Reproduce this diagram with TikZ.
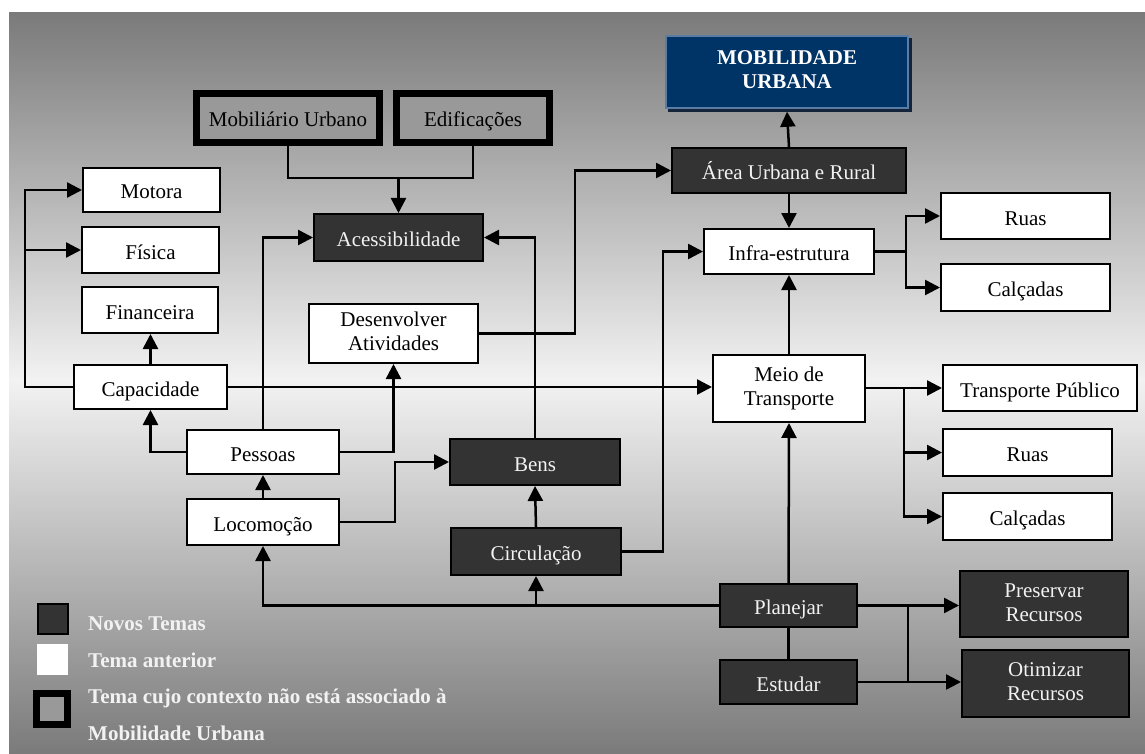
\documentclass[tikz,border=0pt]{standalone}
\usepackage{fontspec}
\setmainfont{Liberation Serif}
\usetikzlibrary{arrows.meta,calc}
\definecolor{darkbox}{HTML}{333333}
\definecolor{navy}{HTML}{003366}
\definecolor{navyedge}{HTML}{5A7DA6}
\definecolor{navyshadow}{HTML}{14243A}
\definecolor{lighttext}{HTML}{F2F2F2}
\definecolor{midgray}{HTML}{999999}
\begin{document}
\begin{tikzpicture}[x=1pt,y=-1pt,
  every node/.style={font=\fontsize{21}{24}\selectfont, inner sep=0pt},
  oneline/.style={text height=18pt, text depth=0pt},
  twoline/.style={text height=39pt, text depth=5pt},
  wbox/.style={draw=black, fill=white, line width=2pt, align=center, oneline},
  dbox/.style={draw=black, fill=darkbox, line width=2pt, text=lighttext, align=center, oneline},
  tbox/.style={draw=black, fill=midgray, line width=7pt, align=center, oneline},
  ln/.style={line width=2.5pt, draw=black},
  arr/.style={ln, -{Triangle[length=15pt,width=15pt]}},
  lgtext/.style={anchor=west, text=lighttext, font=\fontsize{21}{24}\selectfont\bfseries, text height=15pt, text depth=5pt}
]
\useasboundingbox (0,0) rectangle (1145,754);
% background
\shade[top color=black!52, bottom color=black!5] (9,13) rectangle (1145,381);
\shade[top color=black!5, bottom color=black!52] (9,380) rectangle (1145,754);

% nodes
\node[tbox, minimum width=183pt, minimum height=49pt] (mob) at (288,118) {Mobiliário Urbano};
\node[tbox, minimum width=153pt, minimum height=49pt] (edi) at (473,118) {Edificações};

\fill[navyshadow] (668,38) rectangle (912,112);
\node[draw=navyedge, fill=navy, line width=1.5pt, minimum width=242pt, minimum height=72pt, text=white, font=\fontsize{21}{24}\selectfont\bfseries, align=center, twoline] (mu) at (787,72) {MOBILIDADE\\URBANA};

\node[dbox, minimum width=234pt, minimum height=45pt] (aur) at (789,170.5) {Área Urbana e Rural};
\node[wbox, minimum width=170pt, minimum height=45pt] (inf) at (789,251.5) {Infra-estrutura};
\node[wbox, minimum width=169pt, minimum height=46pt] (ruasA) at (1025.5,216) {Ruas};
\node[wbox, minimum width=169pt, minimum height=47pt] (calcA) at (1025.5,287.5) {Calçadas};
\node[wbox, twoline, minimum width=152pt, minimum height=67pt] (meio) at (789,388.5) {Meio de\\Transporte};
\node[wbox, minimum width=194pt, minimum height=46pt] (tp) at (1040,388) {Transporte Público};
\node[wbox, minimum width=169pt, minimum height=47pt] (ruasB) at (1027.5,452.5) {Ruas};
\node[wbox, minimum width=169pt, minimum height=47pt] (calcB) at (1027.5,516.5) {Calçadas};
\node[dbox, minimum width=137pt, minimum height=43pt] (plan) at (788.5,605.5) {Planejar};
\node[dbox, minimum width=137pt, minimum height=44pt] (est) at (788.5,682) {Estudar};
\node[dbox, twoline, minimum width=168pt, minimum height=66pt] (pres) at (1044,604) {Preservar\\Recursos};
\node[dbox, twoline, minimum width=167pt, minimum height=67pt] (otim) at (1045.5,683.5) {Otimizar\\Recursos};

\node[wbox, minimum width=137pt, minimum height=44pt] (motora) at (151.5,190) {Motora};
\node[wbox, minimum width=137pt, minimum height=46pt] (fisica) at (150.5,250) {Física};
\node[wbox, minimum width=136pt, minimum height=46pt] (fin) at (150,310) {Financeira};
\node[wbox, minimum width=153pt, minimum height=44pt] (cap) at (150.5,387) {Capacidade};
\node[wbox, minimum width=152pt, minimum height=44pt] (pes) at (263,452) {Pessoas};
\node[wbox, minimum width=152pt, minimum height=46pt] (loc) at (263,522) {Locomoção};
\node[dbox, minimum width=169pt, minimum height=47pt] (ace) at (398.5,237.5) {Acessibilidade};
\node[wbox, twoline, minimum width=169pt, minimum height=59pt] (des) at (393.5,333.5) {Desenvolver\\Atividades};
\node[dbox, minimum width=170pt, minimum height=46pt] (bens) at (535,462) {Bens};
\node[dbox, minimum width=170pt, minimum height=47pt] (circ) at (536,551.5) {Circulação};

% connectors
\coordinate (j1) at (398.5,178);
\draw[ln] (mob.south) |- (j1);
\draw[ln] (edi.south) |- (j1);
\draw[arr] (j1) -- (ace.north);

\coordinate (cl) at (25,387);
\draw[arr] (cap.west) -- (cl) |- (motora.west);
\draw[arr] (cl) |- (fisica.west);
\draw[arr] (cap.north) -- (cap.north |- fin.south);
\draw[arr] (cap.east) -- (cap.east -| meio.west);

\draw[arr] (pes.west) -| (cap.south);
\draw[arr] (pes.north) |- (ace.west);
\draw[arr] (pes.east) -| (des.south);
\draw[arr] (loc.north) -- (pes.south);
\draw[arr] (loc.east) -- ++(55,0) |- (bens.west);
\draw[arr] (bens.north) |- (ace.east);
\draw[arr] (des.east) -- ++(96,0) |- (aur.west);
\draw[arr] (circ.north) -- (bens.south);
\draw[arr] (circ.east) -- ++(41,0) |- (inf.west);

\draw[arr] (aur.north) -- ([yshift=-3pt]mu.south);
\draw[arr] (aur.south) -- (inf.north);

\coordinate (ij) at (906,251.5);
\draw[ln] (inf.east) -- (ij);
\draw[arr] (ij) |- (ruasA.west);
\draw[arr] (ij) |- (calcA.west);

\draw[arr] (meio.north) -- (inf.south);
\coordinate (mj) at (904,388);
\draw[arr] (meio.east |- mj) -- (tp.west);
\draw[arr] (mj) |- (ruasB.west);
\draw[arr] (mj) |- (calcB.west);

\draw[arr] (plan.north) -- (meio.south);
\draw[arr] (plan.west) -| (loc.south);
\draw[arr] (circ.south |- plan.west) -- (circ.south);
\draw[ln] (plan.south) -- (est.north);

\coordinate (pj) at (908,605.5);
\coordinate (ej) at (908,682);
\draw[arr] (plan.east) -- (plan.east -| pres.west);
\draw[arr] (est.east) -- (est.east -| otim.west);
\draw[ln] (pj) -- (ej);

% legend
\node[draw=black, fill=darkbox, line width=2pt, minimum size=30pt] (lg1) at (53,619) {};
\node[fill=white, minimum size=31pt] (lg2) at (52.5,659.5) {};
\node[draw=black, fill=midgray, line width=7pt, minimum size=31pt] (lg3) at (52,709) {};
\node[lgtext] (lt1) at (88,625) {Novos Temas};
\node[lgtext] (lt2) at (88,662) {Tema anterior};
\node[lgtext] (lt3) at (88,698) {Tema cujo contexto não está associado à};
\node[lgtext] (lt4) at (88,735) {Mobilidade Urbana};
\end{tikzpicture}
\end{document}
